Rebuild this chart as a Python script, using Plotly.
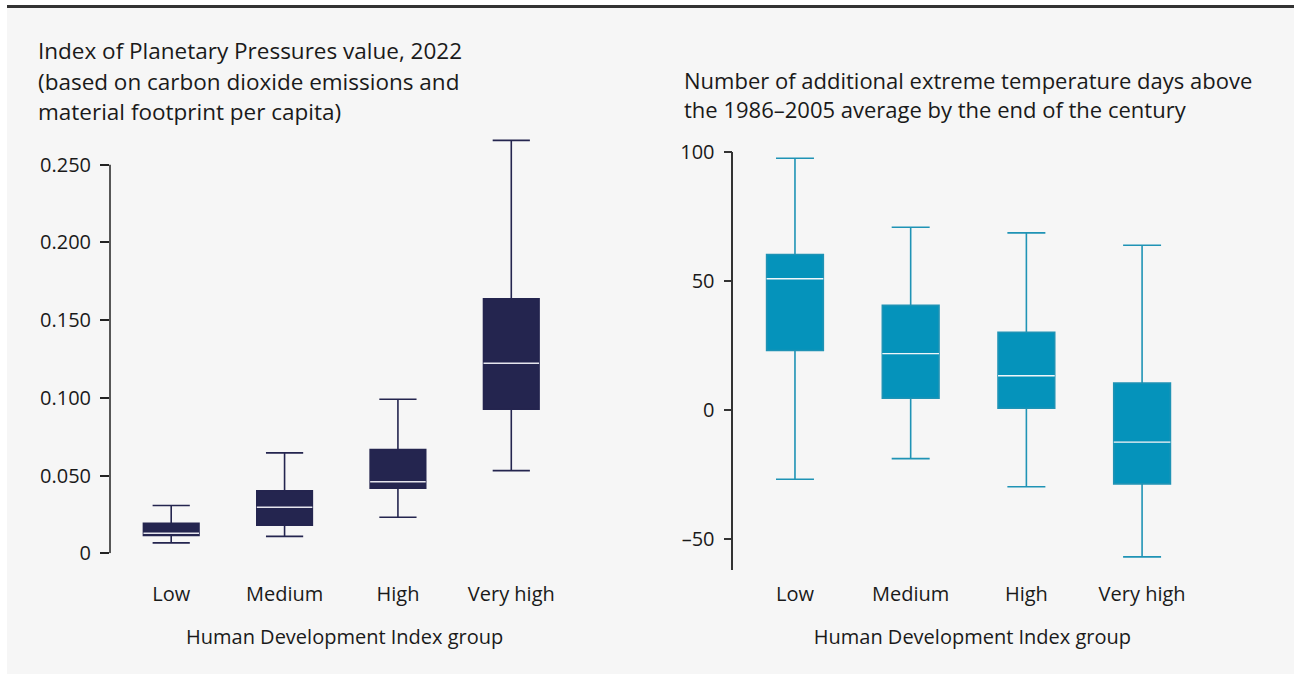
import plotly.graph_objects as go

W, H = 1294, 674

categories = ["Low", "Medium", "High", "Very high"]

# Left panel: Index of Planetary Pressures value, 2022
ipp_lower = [0.0067, 0.0109, 0.0232, 0.0532]
ipp_q1 = [0.0114, 0.0180, 0.0418, 0.0927]
ipp_median = [0.0129, 0.0296, 0.0460, 0.1223]
ipp_q3 = [0.0193, 0.0402, 0.0668, 0.1638]
ipp_upper = [0.0307, 0.0646, 0.0991, 0.2657]
ipp_tickvals = [0, 0.05, 0.10, 0.15, 0.20, 0.25]
ipp_ticktext = ["0", "0.050", "0.100", "0.150", "0.200", "0.250"]

# Right panel: additional extreme temperature days
temp_lower = [-27.0, -19.0, -29.9, -57.1]
temp_q1 = [22.9, 4.4, 0.5, -28.8]
temp_median = [50.7, 21.7, 13.1, -12.6]
temp_q3 = [60.1, 40.4, 30.0, 10.3]
temp_upper = [97.4, 70.7, 68.5, 63.7]
temp_tickvals = [-50, 0, 50, 100]
temp_ticktext = ["\u201350", "0", "50", "100"]

NAVY = "#24254f"
TEAL = "#0593bb"
TEAL_LINE = "#1f93b5"
FONT = "Open Sans"
TXT = "#1a1a1a"
PANEL = "#f6f6f6"


def px_x(p):
    return p / W


def px_y(p):
    # vertical position given in target-picture pixels
    q = (p - 13.4) / 0.96
    return min(1.0, max(0.0, 1 - q / H))


fig = go.Figure()

# left boxes
fig.add_trace(go.Box(
    x=categories, q1=ipp_q1, median=ipp_median, q3=ipp_q3,
    lowerfence=ipp_lower, upperfence=ipp_upper,
    fillcolor=NAVY, line=dict(color=NAVY, width=1.6), whiskerwidth=0.67,
    boxpoints=False, xaxis="x", yaxis="y", showlegend=False, hoverinfo="skip"))
fig.add_trace(go.Box(
    x=categories, q1=ipp_median, median=ipp_median, q3=ipp_median,
    lowerfence=ipp_median, upperfence=ipp_median,
    fillcolor="rgba(0,0,0,0)", line=dict(color="#e6e6ee", width=1.4), whiskerwidth=0,
    boxpoints=False, xaxis="x", yaxis="y", showlegend=False, hoverinfo="skip"))

# right boxes
fig.add_trace(go.Box(
    x=categories, q1=temp_q1, median=temp_median, q3=temp_q3,
    lowerfence=temp_lower, upperfence=temp_upper,
    fillcolor=TEAL, line=dict(color=TEAL_LINE, width=1.6), whiskerwidth=0.67,
    boxpoints=False, xaxis="x2", yaxis="y2", showlegend=False, hoverinfo="skip"))
fig.add_trace(go.Box(
    x=categories, q1=temp_median, median=temp_median, q3=temp_median,
    lowerfence=temp_median, upperfence=temp_median,
    fillcolor="rgba(0,0,0,0)", line=dict(color="#eef6fa", width=1.4), whiskerwidth=0,
    boxpoints=False, xaxis="x2", yaxis="y2", showlegend=False, hoverinfo="skip"))

tickfont = dict(family=FONT, size=20, color=TXT)
axtitlefont = dict(family=FONT, size=20, color=TXT)
xaxis_pos = px_y(569)

fig.update_layout(
    width=W, height=H,
    margin=dict(l=0, r=0, t=0, b=0),
    paper_bgcolor="rgba(0,0,0,0)",
    plot_bgcolor="rgba(0,0,0,0)",
    font=dict(family=FONT, color=TXT),
    xaxis=dict(
        domain=[px_x(110), px_x(579.3)], range=[-0.54, 3.6],
        anchor="free", position=xaxis_pos,
        showline=False, showgrid=False, zeroline=False, ticks="",
        tickfont=tickfont, ticklabelstandoff=10,
        title=dict(text="Human Development Index group", font=axtitlefont, standoff=24),
        fixedrange=True),
    yaxis=dict(
        domain=[px_y(552.7), px_y(133.1)], range=[0, 0.27],
        showline=False, showgrid=False, zeroline=False,
        ticks="outside", ticklen=9, tickwidth=1.5, tickcolor="#222",
        tickvals=ipp_tickvals, ticktext=ipp_ticktext, tickfont=tickfont,
        ticklabelstandoff=5,
        fixedrange=True),
    xaxis2=dict(
        domain=[px_x(733.3), px_x(1211.5)], range=[-0.533, 3.6],
        anchor="free", position=xaxis_pos,
        showline=False, showgrid=False, zeroline=False, ticks="",
        tickfont=tickfont, ticklabelstandoff=10,
        title=dict(text="Human Development Index group", font=axtitlefont, standoff=24),
        fixedrange=True),
    yaxis2=dict(
        domain=[px_y(569), px_y(151)], range=[-62, 100], anchor="x2",
        showline=True, linecolor="#333", linewidth=1.5,
        showgrid=False, zeroline=False,
        ticks="outside", ticklen=8, tickwidth=1.5, tickcolor="#333",
        tickvals=temp_tickvals, ticktext=temp_ticktext, tickfont=tickfont,
        ticklabelstandoff=5,
        fixedrange=True),
)

shapes = [
    # left y axis line (from 0 to 0.25 only)
    dict(type="line", xref="x domain", yref="y", x0=0, x1=0, y0=0, y1=0.25,
         line=dict(color="#222", width=1.5)),
]
fig.update_layout(shapes=shapes)

title_font = dict(family=FONT, size=22.5, color=TXT)
left_title = ["Index of Planetary Pressures value, 2022",
              "(based on carbon dioxide emissions and",
              "material footprint per capita)"]
left_title_y = [50, 81, 111]
right_title = ["Number of additional extreme temperature days above",
               "the 1986\u20132005 average by the end of the century"]
right_title_y = 93.5

annotations = []
for t, yy in zip(left_title, left_title_y):
    annotations.append(dict(text=t, xref="paper", yref="paper", x=px_x(36), y=px_y(yy),
                            xanchor="left", yanchor="middle", showarrow=False, font=title_font))
annotations.append(dict(text="<br>".join(right_title), xref="paper", yref="paper",
                        x=px_x(682), y=px_y(right_title_y), xanchor="left", yanchor="middle",
                        align="left", showarrow=False,
                        font=dict(family=FONT, size=22, color=TXT)))
fig.update_layout(annotations=annotations)

# page background: light panel with a white left strip and a dark top rule
bg = ("linear-gradient(to right,#ffffff 0px,#ffffff 7px,rgba(255,255,255,0) 7px),"
      "linear-gradient(to bottom,#ffffff 0px,#ffffff 5.2px,#333333 5.2px,#333333 7.7px,"
      + PANEL + " 7.7px)")
post = ("var de=document.documentElement;de.style.margin='0';document.body.style.margin='0';"
        "de.style.height='100%';"
        "de.style.backgroundColor='" + PANEL + "';"
        "de.style.backgroundImage='" + bg + "';"
        "de.style.backgroundRepeat='no-repeat';"
        "de.style.overflow='hidden';document.body.style.overflow='hidden';"
        "document.body.style.background='transparent';"
        "var gd=document.getElementById('{plot_id}');gd.style.position='absolute';"
        "gd.style.left='0px';gd.style.top='0px';")

fig.write_html("out.html", post_script=post, config={"displayModeBar": False})
